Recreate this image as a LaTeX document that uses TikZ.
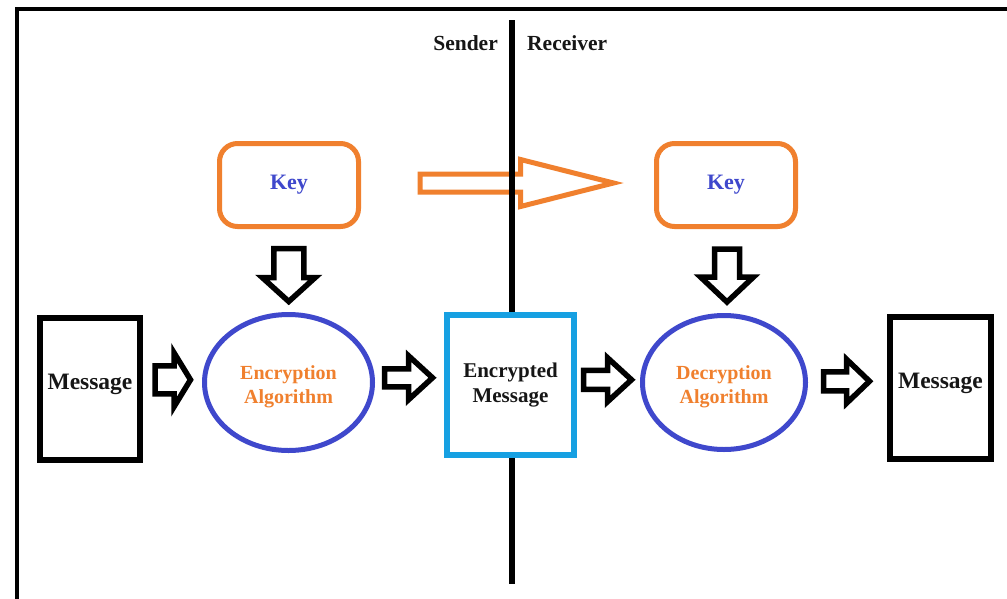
\documentclass[tikz,border=0pt]{standalone}
\usepackage{fontspec}
\setmainfont{Liberation Serif}
\usetikzlibrary{shapes.geometric,calc}

\definecolor{paintorange}{RGB}{240,128,46}
\definecolor{paintindigo}{RGB}{63,72,204}
\definecolor{paintcyan}{RGB}{22,160,226}
\definecolor{inkdark}{RGB}{22,22,22}

% block arrow: position, rotation, shaft start, head base, tip, shaft half width, head half width
\newcommand\blockarrow[8][blockline]{%
  \draw[#1,shift={#2},rotate=#3] (#4,#7) -- (#5,#7) -- (#5,#8) -- (#6,0)
    -- (#5,-#8) -- (#5,-#7) -- (#4,-#7) -- cycle;}
% shift a label vertically inside its node without changing the node size
\newcommand\nudge[2]{\raisebox{#1}[\height][\depth]{#2}}

\begin{document}
\begin{tikzpicture}[x=1pt,y=-1pt,
  every node/.style={font=\bfseries\fontsize{20}{24}\selectfont, inner sep=0pt, align=center},
  msgbox/.style={draw=black, line width=6pt, fill=white, minimum width=100pt, minimum height=142pt,
    text=inkdark, font=\bfseries\fontsize{23.5}{28}\selectfont},
  algo/.style={ellipse, draw=paintindigo, line width=5pt, fill=white, text=paintorange},
  keybox/.style={draw=paintorange, line width=5pt, rounded corners=18pt, fill=white,
    minimum width=139pt, minimum height=83pt, text=paintindigo, font=\bfseries\fontsize{22}{26}\selectfont},
  blockline/.style={draw=black, line width=5.5pt, line join=miter, fill=white},
  keyline/.style={draw=paintorange, line width=5pt, line join=miter, fill=white},
  side/.style={text=inkdark, font=\bfseries\fontsize{21.5}{26}\selectfont}]
  \useasboundingbox (0,0) rectangle (1007,598);
  \clip (0,0) rectangle (1007,598);
  \fill[white] (0,0) rectangle (1007,598);

  % outer frame, running off the right and bottom edges
  \draw[line width=4pt] (16.5,620) -- (16.5,9) -- (1030,9);

  % keys
  \node[keybox] (keyL) at (289,185) {Key};
  \node[keybox] (keyR) at (726,185) {Key};

  % key handed over from sender to receiver
  \coordinate (kx) at ($(keyL.east)!0.5!(keyR.west)+(0,-2)$);
  \blockarrow[keyline]{(kx)}{0}{-87.5}{13}{106}{9}{23.5}

  % sender / receiver divide
  \coordinate (divTop) at (512,20);
  \coordinate (divBot) at (512,584);
  \draw[line width=6pt] (divTop) -- (divBot);
  \node[side, anchor=east] (sender) at (498,43) {Sender};
  \node[side, anchor=west] (receiver) at (527,43) {Receiver};

  % message flow
  \node[msgbox] (msgL) at (90,389) {\nudge{5pt}{Message}};
  \node[algo, minimum width=168pt, minimum height=136pt] (encAlg) at (288.5,382.5)
    {\nudge{-4pt}{\begin{tabular}{@{}c@{}}Encryption\\Algorithm\end{tabular}}};
  \node[draw=paintcyan, line width=6pt, fill=white, minimum width=127pt, minimum height=140pt,
    text=inkdark, font=\bfseries\fontsize{21}{25}\selectfont]
    (encMsg) at (510.5,385) {\begin{tabular}{@{}c@{}}Encrypted\\Message\end{tabular}};
  \node[algo, minimum width=163pt, minimum height=134pt] (decAlg) at (724,382.5)
    {\nudge{-4pt}{\begin{tabular}{@{}c@{}}Decryption\\Algorithm\end{tabular}}};
  \node[msgbox, minimum width=101pt] (msgR) at (940.5,388) {\nudge{5pt}{Message}};

  % keys feeding the algorithms
  \coordinate (dL) at ($(keyL.south)!0.5!(encAlg.north)+(0,6)$);
  \coordinate (dR) at ($(keyR.south)!0.5!(decAlg.north)+(2,6)$);
  \blockarrow{(dL)}{-90}{-28}{1}{25}{15}{26.5}
  \blockarrow{(dR)}{-90}{-28}{0}{25}{12.5}{26.5}

  % steps along the flow
  \coordinate (a1) at ($(msgL.east)!0.5!(encAlg.west)+(0,-6)$);
  \coordinate (a2) at ($(encAlg.east)!0.5!(encMsg.west)+(0,-6)$);
  \coordinate (a3) at ($(encMsg.east)!0.5!(decAlg.west)+(0,-4)$);
  \coordinate (a4) at ($(decAlg.east)!0.5!(msgR.west)+(0,-4)$);
  \blockarrow{(a1)}{0}{-17.5}{1.5}{18}{14}{27}
  \blockarrow{(a2)}{0}{-25}{-1}{23}{9}{22}
  \blockarrow{(a3)}{0}{-25}{-1}{23}{9.5}{22}
  \blockarrow{(a4)}{0}{-24}{-1}{22}{9.5}{22}
\end{tikzpicture}
\end{document}
